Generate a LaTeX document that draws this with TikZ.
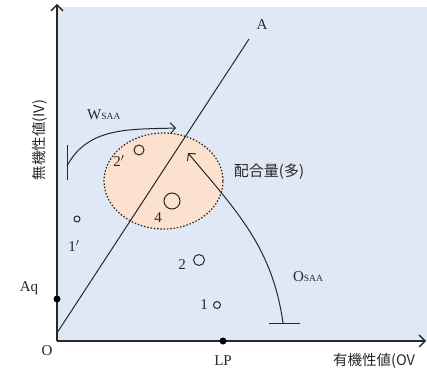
\documentclass[tikz,border=0pt]{standalone}
\usepackage{fontspec}
\setmainfont{Liberation Serif}
\newfontfamily\jp{Noto Sans CJK JP}
\usetikzlibrary{arrows.meta, positioning, shapes.geometric}
\definecolor{bgblue}{RGB}{224,232,245}
\definecolor{mixpeach}{RGB}{251,225,206}
\definecolor{linegray}{RGB}{40,40,40}
\tikzset{
  axis/.style   = {draw=linegray, line width=1.7pt, -{Straight Barb[length=6pt,width=12pt,line width=1.3pt]}},
  curve/.style  = {draw=linegray, line width=1pt},
  barb/.style   = {-{Straight Barb[length=5pt,width=11pt]}},
  pt/.style     = {circle, draw=linegray, line width=1pt, inner sep=0pt},
  dot/.style    = {circle, fill=black, inner sep=0pt, minimum size=7pt},
  lbl/.style    = {font=\fontsize{15}{15}\selectfont, text=linegray, inner sep=0pt},
  jplbl/.style  = {font=\jp\fontsize{14.5}{14.5}\selectfont, text=linegray, inner sep=0pt},
  mix/.style    = {ellipse, draw=linegray, fill=mixpeach, line width=1.2pt,
                   dash pattern=on 1.5pt off 1.8pt, minimum width=119pt, minimum height=96pt},
}

\begin{document}
\begin{tikzpicture}[x=1pt, y=1pt]
  \useasboundingbox (0,0) rectangle (427,372);
  \fill[bgblue] (57,31) rectangle (427,365);
  % mixing region
  \node[mix] (mixing) at (163.5,191) {};
  % axes
  \coordinate (O) at (57,31);
  \coordinate (ytip) at (57,368);
  \coordinate (xtip) at (426,31);
  \draw[axis] (O) -- (ytip);
  \draw[axis] (O) -- (xtip);
  \node[lbl] (olbl) at (47,21) {O};
  \node[dot] (aq) at (57,73) {};
  \node[lbl] (aqlbl) at (29,84) {Aq};
  \node[dot] (lp) at (223,31) {};
  \node[lbl] (lplbl) at (223,11) {LP};
  \node[jplbl, anchor=west] (ov) at (333,11) {有機性値(OV};
  \node[jplbl, rotate=90] (iv) at (40,232) {無機性値(IV)};
  % line OA
  \coordinate (a0) at (57,39);
  \coordinate (a1) at (249,333);
  \draw[curve] (a0) -- (a1);
  \node[lbl] (albl) at (262,347) {A};
  % samples
  \node[pt, minimum size=10pt] (p2d) at (139,222) {};
  \node[lbl] (p2dlbl) at (119,211) {2$'$};
  \node[pt, minimum size=16pt] (p4) at (172,171) {};
  \node[lbl] (p4lbl) at (158,154) {4};
  \node[pt, minimum size=6pt] (p1d) at (77,153) {};
  \node[lbl] (p1dlbl) at (74,126) {1$'$};
  \node[pt, minimum size=11pt] (p2) at (199,112) {};
  \node[lbl] (p2lbl) at (182,107) {2};
  \node[pt, minimum size=7pt] (p1) at (217,67) {};
  \node[lbl] (p1lbl) at (204,67) {1};
  % W_SAA
  \coordinate (wbar0) at (67,192);
  \coordinate (wbar1) at (67,227);
  \coordinate (ws) at (67,206);
  \coordinate (we) at (176,244);
  \draw[curve] (wbar0) -- (wbar1);
  \draw[curve, barb] (ws) to[out=62, in=182] (we);
  \node[lbl, anchor=west] (wlbl) at (87,257) {W{\fontsize{9.5}{9.5}\selectfont SAA}};
  % O_SAA
  \coordinate (obar0) at (269,49);
  \coordinate (obar1) at (300,49);
  \coordinate (os) at (283,49);
  \coordinate (oe) at (188,219);
  \draw[curve] (obar0) -- (obar1);
  \draw[curve, barb] (os) to[out=98, in=-50] (oe);
  \node[lbl] (olbl2) at (308,95) {O{\fontsize{9.5}{9.5}\selectfont SAA}};
  \node[jplbl, font=\jp\fontsize{15}{15}\selectfont] (amount) at (269,200) {配合量(多)};
\end{tikzpicture}
\end{document}
